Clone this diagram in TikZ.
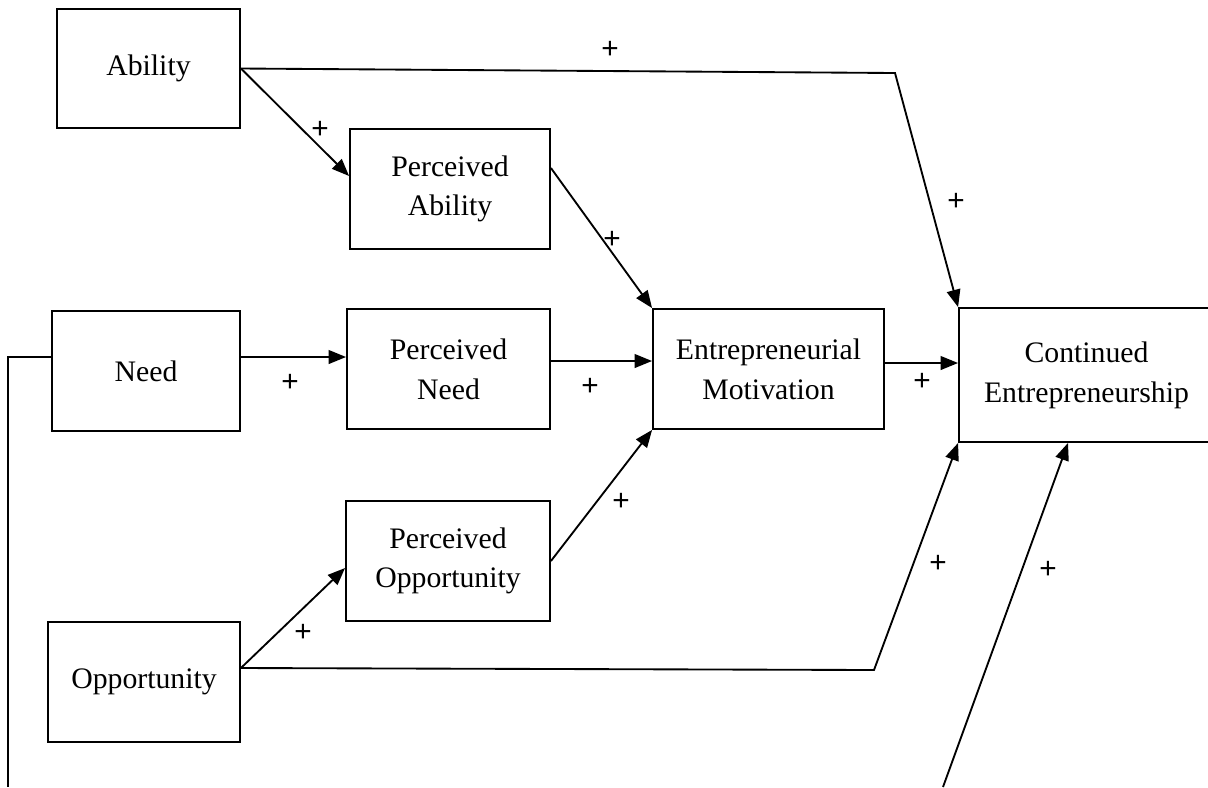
\documentclass[tikz,border=0pt]{standalone}
\usepackage{fontspec}
\setmainfont{Liberation Serif}
\newfontfamily\plusfont{Liberation Sans}
\usetikzlibrary{arrows.meta}
\newcommand{\pxu}{0.01417cm}

\begin{document}
\begin{tikzpicture}[x=0.01417cm, y=-0.01417cm,
  line width=0.75pt,
  >={Triangle[length=7pt,width=5.5pt]},
  box/.style={draw, rectangle, inner sep=0pt, align=center,
    font=\fontsize{12}{16}\selectfont},
  plus/.style={font=\plusfont\fontsize{12}{14}\selectfont, inner sep=0pt}]
  \useasboundingbox (0,0) rectangle (1208,787);

  % the boxes
  \node[box, minimum width=183*\pxu, minimum height=119*\pxu] (abil) at (148.5,68.5) {Ability};
  \node[box, minimum width=200*\pxu, minimum height=120*\pxu] (pabil) at (450,189) {Perceived\\Ability};
  \node[box, minimum width=188*\pxu, minimum height=120*\pxu] (need) at (146,371) {Need};
  \node[box, minimum width=203*\pxu, minimum height=120*\pxu] (pneed) at (448.5,369) {Perceived\\Need};
  \node[box, minimum width=231*\pxu, minimum height=120*\pxu] (mot) at (768.5,369) {Entrepreneurial\\Motivation};
  \node[box, minimum width=255*\pxu, minimum height=134*\pxu] (cont) at (1086.5,375) {Continued\\Entrepreneurship};
  \node[box, minimum width=204*\pxu, minimum height=120*\pxu] (popp) at (448,561) {Perceived\\Opportunity};
  \node[box, minimum width=192*\pxu, minimum height=120*\pxu] (opp) at (144,682) {Opportunity};

  % bends and loose ends
  \coordinate (topbend) at (895,73);
  \coordinate (lowbend) at (874,670);
  \coordinate (botend) at (943,787);
  \coordinate (leftend) at (8,787);

  % the arrows
  \draw[->] (abil.east) -- (topbend) -- (cont.north west);
  \draw[->] (abil.east) -- ([yshift=13*\pxu]pabil.west);
  \draw[->] ([yshift=21*\pxu]pabil.east) -- (mot.north west);
  \draw[->] ([yshift=14*\pxu]need.east) -- ([yshift=12*\pxu]pneed.west);
  \draw[->] ([yshift=8*\pxu]pneed.east) -- ([yshift=8*\pxu]mot.west);
  \draw[->] ([yshift=6*\pxu]mot.east) -- ([yshift=12*\pxu]cont.west);
  \draw[->] (popp.east) -- (mot.south west);
  \draw[->] ([yshift=14*\pxu]opp.east) -- ([yshift=-7*\pxu]popp.west);
  \draw[->] ([yshift=14*\pxu]opp.east) -- (lowbend) -- (cont.south west);
  \draw[->] (botend) -- ([xshift=-18.5*\pxu]cont.south);
  \draw ([yshift=14*\pxu]need.west) -| (leftend);

  % the signs
  \foreach \x/\y [count=\i] in {610/50, 320/130, 956/202, 612/240, 290/383,
    590/387, 922/382, 621/502, 303/633, 938/564, 1048/570}
  \node[plus] (plus\i) at (\x,\y) {+};

\end{tikzpicture}
\end{document}
